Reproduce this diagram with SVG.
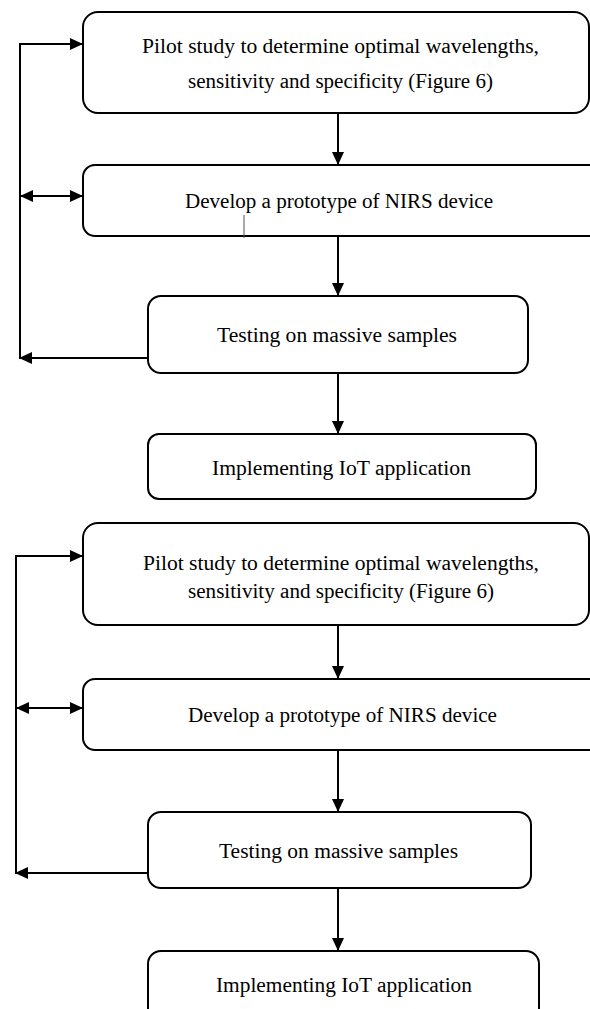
<svg xmlns="http://www.w3.org/2000/svg" width="590" height="1009" viewBox="0 0 590 1009">
<style>
.box{fill:#fff;stroke:#000;stroke-width:2}
.ln{fill:none;stroke:#000;stroke-width:2}
text{font-family:"Liberation Serif","Times New Roman",serif;font-size:20px;fill:#000}
</style>
<defs>
<marker id="ah" markerUnits="userSpaceOnUse" markerWidth="13" markerHeight="12" refX="13" refY="6" orient="auto-start-reverse">
<path d="M0,0 L13,6 L0,12 Z" fill="#000"/>
</marker>
</defs>
<rect width="590" height="1009" fill="#fff"/>
<g id="connectors">
<path class="ln" d="M338,114 V165" marker-end="url(#ah)"/>
<path class="ln" d="M338,237 V296" marker-end="url(#ah)"/>
<path class="ln" d="M338,374 V434" marker-end="url(#ah)"/>
<path class="ln" d="M148,358 H19" marker-end="url(#ah)"/>
<path class="ln" d="M20,359 V44 H83" marker-end="url(#ah)"/>
<path class="ln" d="M20,196 H83" marker-start="url(#ah)" marker-end="url(#ah)"/>
<path class="ln" d="M338,626 V679" marker-end="url(#ah)"/>
<path class="ln" d="M338,751 V812" marker-end="url(#ah)"/>
<path class="ln" d="M338,889 V951" marker-end="url(#ah)"/>
<path class="ln" d="M148,873 H15" marker-end="url(#ah)"/>
<path class="ln" d="M16,874 V556 H83" marker-end="url(#ah)"/>
<path class="ln" d="M16,708 H83" marker-start="url(#ah)" marker-end="url(#ah)"/>
</g>
<g id="n1">
<rect class="box" x="83" y="12" width="506" height="101" rx="15"/>
<text x="142" y="53" textLength="397" lengthAdjust="spacingAndGlyphs">Pilot study to determine optimal wavelengths,</text>
<text x="188" y="88" textLength="305" lengthAdjust="spacingAndGlyphs">sensitivity and specificity (Figure 6)</text>
</g>
<g id="n2">
<rect class="box" x="83" y="165" width="520" height="71" rx="12"/>
<text x="185" y="208" textLength="308" lengthAdjust="spacingAndGlyphs">Develop a prototype of NIRS device</text>
<line x1="244" y1="215" x2="244" y2="238" stroke="#555" stroke-width="1"/>
</g>
<g id="n3">
<rect class="box" x="148" y="296" width="380" height="77" rx="13"/>
<text x="217" y="342" textLength="240" lengthAdjust="spacingAndGlyphs">Testing on massive samples</text>
</g>
<g id="n4">
<rect class="box" x="148" y="434" width="388" height="65" rx="11"/>
<text x="212" y="475" textLength="259" lengthAdjust="spacingAndGlyphs">Implementing IoT application</text>
</g>
<g id="n5">
<rect class="box" x="83" y="523" width="506" height="102" rx="15"/>
<text x="143" y="570" textLength="396" lengthAdjust="spacingAndGlyphs">Pilot study to determine optimal wavelengths,</text>
<text x="188" y="598" textLength="306" lengthAdjust="spacingAndGlyphs">sensitivity  and specificity  (Figure 6)</text>
</g>
<g id="n6">
<rect class="box" x="83" y="679" width="520" height="71" rx="12"/>
<text x="188" y="722" textLength="309" lengthAdjust="spacingAndGlyphs">Develop a prototype of NIRS device</text>
</g>
<g id="n7">
<rect class="box" x="148" y="812" width="383" height="76" rx="13"/>
<text x="219" y="858" textLength="239" lengthAdjust="spacingAndGlyphs">Testing on massive samples</text>
</g>
<g id="n8">
<rect class="box" x="148" y="951" width="391" height="70" rx="13"/>
<text x="216" y="992" textLength="256" lengthAdjust="spacingAndGlyphs">Implementing IoT application</text>
</g>
</svg>
